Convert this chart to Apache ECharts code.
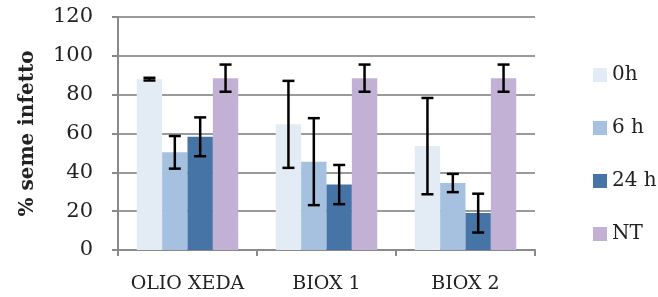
<!DOCTYPE html>
<html>
<head>
<meta charset="utf-8">
<script src="https://cdn.jsdelivr.net/npm/echarts@6/dist/echarts.min.js"></script>
<style>
html, body {margin: 0; padding: 0; background: #fff;}
#figure0 {width: 658px; height: 297px;}
</style>
</head>
<body>
<div id="figure0"></div>
<script>
var categories = ['OLIO XEDA', 'BIOX 1', 'BIOX 2'];
var seriesNames = ['0h', '6 h', '24 h', 'NT'];
var h0 = [88, 64.7, 53.5];
var h6 = [50.3, 45.5, 34.5];
var h24 = [58.3, 33.7, 19];
var nt = [88.5, 88.5, 88.5];
var h0Err = [0.7, 22.4, 24.8];
var h6Err = [8.4, 22.4, 4.7];
var h24Err = [10, 10.1, 10];
var ntErr = [7, 7, 7];

var colors = ['#e3ebf5', '#a6c1e0', '#4674a6', '#c3b1d5'];
var values = [h0, h6, h24, nt];
var errors = [h0Err, h6Err, h24Err, ntErr];
var catGap = 0.27;
var font = '"DejaVu Serif", serif';

// error bar rows: [category, series index, low, high]
var errData = [];
for (var s = 0; s < values.length; s++) {
    for (var i = 0; i < categories.length; i++) {
        errData.push([i, s, values[s][i] - errors[s][i], values[s][i] + errors[s][i]]);
    }
}

function renderErr(params, api) {
    var cat = api.value(0), s = api.value(1);
    var catW = api.size([1, 0])[0];
    var barW = catW * (1 - catGap) / 4;
    var lo = api.coord([cat, api.value(2)]);
    var hi = api.coord([cat, api.value(3)]);
    var x = lo[0] + (s - 1.5) * barW;
    var cap = 6;
    var st = {stroke: '#000', lineWidth: 2.5};
    return {
        type: 'group',
        children: [
            {type: 'line', shape: {x1: x, y1: lo[1], x2: x, y2: hi[1]}, style: st},
            {type: 'line', shape: {x1: x - cap, y1: lo[1], x2: x + cap, y2: lo[1]}, style: st},
            {type: 'line', shape: {x1: x - cap, y1: hi[1], x2: x + cap, y2: hi[1]}, style: st}
        ]
    };
}

var figure0 = echarts.init(document.getElementById('figure0'));
var series = [];
for (var k = 0; k < values.length; k++) {
    series.push({
        name: seriesNames[k],
        type: 'bar',
        data: values[k],
        barGap: '0%',
        barCategoryGap: (catGap * 100) + '%',
        itemStyle: {color: colors[k]}
    });
}
series.push({
    type: 'custom',
    renderItem: renderErr,
    data: errData,
    encode: {x: 0, y: [2, 3]},
    z: 10,
    silent: true
});

var option = {
    animation: false,
    color: colors,
    grid: {left: 118, right: 123, top: 17, bottom: 47},
    legend: {
        orient: 'vertical',
        left: 588,
        top: 60,
        itemWidth: 14,
        itemHeight: 14,
        itemGap: 33,
        icon: 'rect',
        data: seriesNames,
        textStyle: {fontFamily: font, fontSize: 20, color: '#222'}
    },
    xAxis: {
        type: 'category',
        data: categories,
        axisLine: {lineStyle: {color: '#8a8a8a', width: 2}},
        axisTick: {show: true, length: 6, lineStyle: {color: '#8a8a8a', width: 2}},
        axisLabel: {fontFamily: font, fontSize: 19, color: '#222', margin: 25, interval: 0, hideOverlap: false}
    },
    yAxis: {
        type: 'value',
        min: 0,
        max: 120,
        interval: 20,
        name: '% seme infetto',
        nameLocation: 'middle',
        nameGap: 80,
        nameTextStyle: {fontFamily: font, fontSize: 20, fontWeight: 'bold', color: '#222'},
        axisLine: {show: true, lineStyle: {color: '#8a8a8a', width: 2}},
        axisTick: {show: true, length: 6, lineStyle: {color: '#8a8a8a', width: 2}},
        axisLabel: {fontFamily: font, fontSize: 21, color: '#222', margin: 25},
        splitLine: {lineStyle: {color: '#9a9a9a', width: 2}}
    },
    series: series
};
figure0.setOption(option);
</script>
</body>
</html>
